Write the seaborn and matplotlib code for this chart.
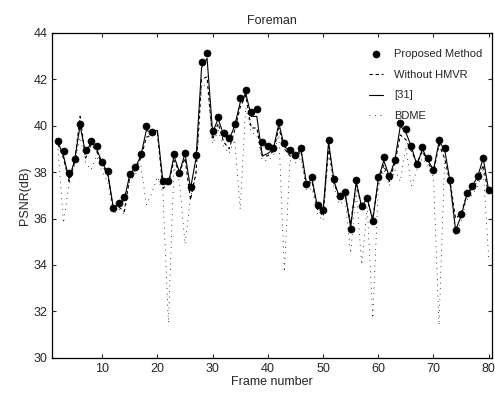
import matplotlib
matplotlib.use("Agg")
import matplotlib.pyplot as plt
import numpy as np
import pandas as pd
import seaborn as sns

frames = list(range(2, 81))

proposed = [39.35, 38.93, 37.95, 38.57, 40.07, 38.95, 39.32, 39.12, 38.44, 38.04,
            36.47, 36.69, 36.92, 37.94, 38.22, 38.80, 39.98, 39.71, np.nan, 37.60,
            37.60, 38.77, 37.98, 38.83, 37.36, 38.73, 42.73, 43.15, 39.77, 40.38,
            39.67, 39.46, 40.06, 41.20, 41.54, 40.60, 40.70, 39.29, 39.12, 39.05,
            40.17, 39.26, 38.95, 38.73, 39.05, 37.50, 37.80, 36.57, 36.35, 39.38,
            37.72, 36.96, 37.15, 35.56, 37.65, 36.54, 36.89, 35.89, 37.79, 38.63,
            37.84, 38.51, 40.13, 39.84, 39.13, 38.34, 39.06, 38.59, 38.11, 39.38,
            39.05, 37.65, 35.49, 36.18, 37.08, 37.39, 37.82, 38.61, 37.22]

without_hmvr = [39.2, 38.6, 37.6, 38.4, 40.4, 38.6, 39.2, 38.9, 38.3, 37.9,
                36.4, 36.5, 36.3, 37.8, 38.1, 38.6, 39.5, 39.6, 39.7, 37.3,
                37.5, 38.5, 38.0, 38.6, 36.8, 38.0, 42.0, 42.1, 39.4, 40.1,
                39.3, 39.0, 39.8, 40.8, 41.3, 39.9, 39.9, 38.7, 38.7, 38.9,
                39.9, 39.0, 38.7, 38.6, 38.9, 37.4, 37.6, 36.4, 36.1, 39.1,
                37.5, 36.9, 37.0, 35.8, 37.5, 36.5, 36.8, 36.0, 37.6, 38.3,
                37.6, 38.4, 39.6, 39.4, 38.9, 38.4, 38.9, 38.4, 38.0, 39.2,
                38.6, 37.6, 36.0, 36.2, 37.0, 37.3, 37.6, 38.3, 37.0]

ref31 = [39.3, 38.7, 37.7, 38.5, 40.0, 38.8, 39.3, 39.0, 38.4, 38.0,
         36.5, 36.6, 36.8, 37.9, 38.2, 38.7, 39.8, 39.7, 39.8, 37.6,
         37.5, 38.7, 38.0, 38.8, 37.3, 38.6, 42.5, 42.9, 39.7, 40.3,
         39.6, 39.4, 40.0, 41.0, 41.4, 40.4, 40.4, 38.7, 38.8, 39.0,
         40.1, 39.1, 38.9, 38.7, 39.0, 37.5, 37.7, 36.5, 36.3, 39.3,
         37.6, 36.9, 37.1, 35.6, 37.6, 36.5, 36.9, 35.9, 37.7, 38.5,
         37.8, 38.5, 40.0, 39.7, 39.1, 38.3, 39.0, 38.5, 38.1, 39.3,
         39.0, 37.6, 35.5, 36.1, 37.0, 37.4, 37.8, 38.6, 37.2]

bdme = [39.0, 35.8, 37.5, 38.3, 39.5, 38.4, 38.1, 38.7, 38.0, 37.6,
        36.2, 36.4, 36.2, 37.6, 37.9, 38.3, 36.6, 37.1, 37.8, 37.1,
        31.5, 38.2, 37.6, 34.9, 36.9, 37.9, 41.6, 41.9, 39.2, 39.8,
        39.1, 38.8, 39.4, 36.4, 40.8, 39.7, 39.6, 38.5, 38.5, 38.7,
        39.6, 33.7, 38.5, 38.4, 38.6, 37.2, 37.3, 36.2, 35.9, 38.8,
        37.3, 36.6, 36.8, 34.5, 37.2, 34.0, 36.5, 31.7, 37.3, 38.1,
        37.4, 38.1, 37.6, 39.1, 37.4, 38.1, 38.6, 38.2, 37.8, 31.4,
        38.4, 37.3, 35.3, 35.9, 36.8, 37.0, 37.4, 38.1, 34.3]

df = pd.DataFrame({"frame": frames, "proposed": proposed, "hmvr": without_hmvr,
                   "ref31": ref31, "bdme": bdme})

sns.set_style("ticks")
plt.rcParams["font.family"] = ["Liberation Sans", "DejaVu Sans"]
plt.rcParams["xtick.direction"] = "in"
plt.rcParams["ytick.direction"] = "in"

fig = plt.figure(figsize=(4.95, 3.95), dpi=100)
ax = fig.add_axes([0.106, 0.094, 0.888, 0.823])

sns.lineplot(data=df, x="frame", y="bdme", ax=ax, color="black", lw=0.55,
             label="BDME", legend=False).lines[-1].set_dashes([1.2, 6])
sns.lineplot(data=df, x="frame", y="ref31", ax=ax, color="black", lw=0.8,
             label="[31]", legend=False)
sns.lineplot(data=df, x="frame", y="hmvr", ax=ax, color="black", lw=0.8,
             label="Without HMVR", legend=False).lines[-1].set_dashes([3, 2.5])
sns.scatterplot(data=df, x="frame", y="proposed", ax=ax, color="black", s=26,
                edgecolor="black", zorder=5, label="Proposed Method", legend=False)

ax.set_xlim(1, 80.6)
ax.set_ylim(30, 44)
ax.set_xticks(range(10, 81, 10))
ax.set_yticks(range(30, 45, 2))
ax.tick_params(axis="both", labelsize=9, length=3, width=0.8, top=True, right=True)
for s in ax.spines.values():
    s.set_linewidth(0.9)
    s.set_color("black")
ax.set_xlabel("Frame number", fontsize=9, labelpad=1)
ax.set_ylabel("PSNR(dB)", fontsize=9, labelpad=2)
ax.set_title("Foreman", fontsize=9, pad=6)

h, l = ax.get_legend_handles_labels()
order = [l.index(n) for n in ["Proposed Method", "Without HMVR", "[31]", "BDME"]]
ax.legend([h[i] for i in order], [l[i] for i in order], loc="upper right",
          bbox_to_anchor=(1.0, 0.98), frameon=False, fontsize=8,
          handlelength=1.2, labelspacing=0.95, handletextpad=1.0)

fig.savefig("out.png", dpi=100)
